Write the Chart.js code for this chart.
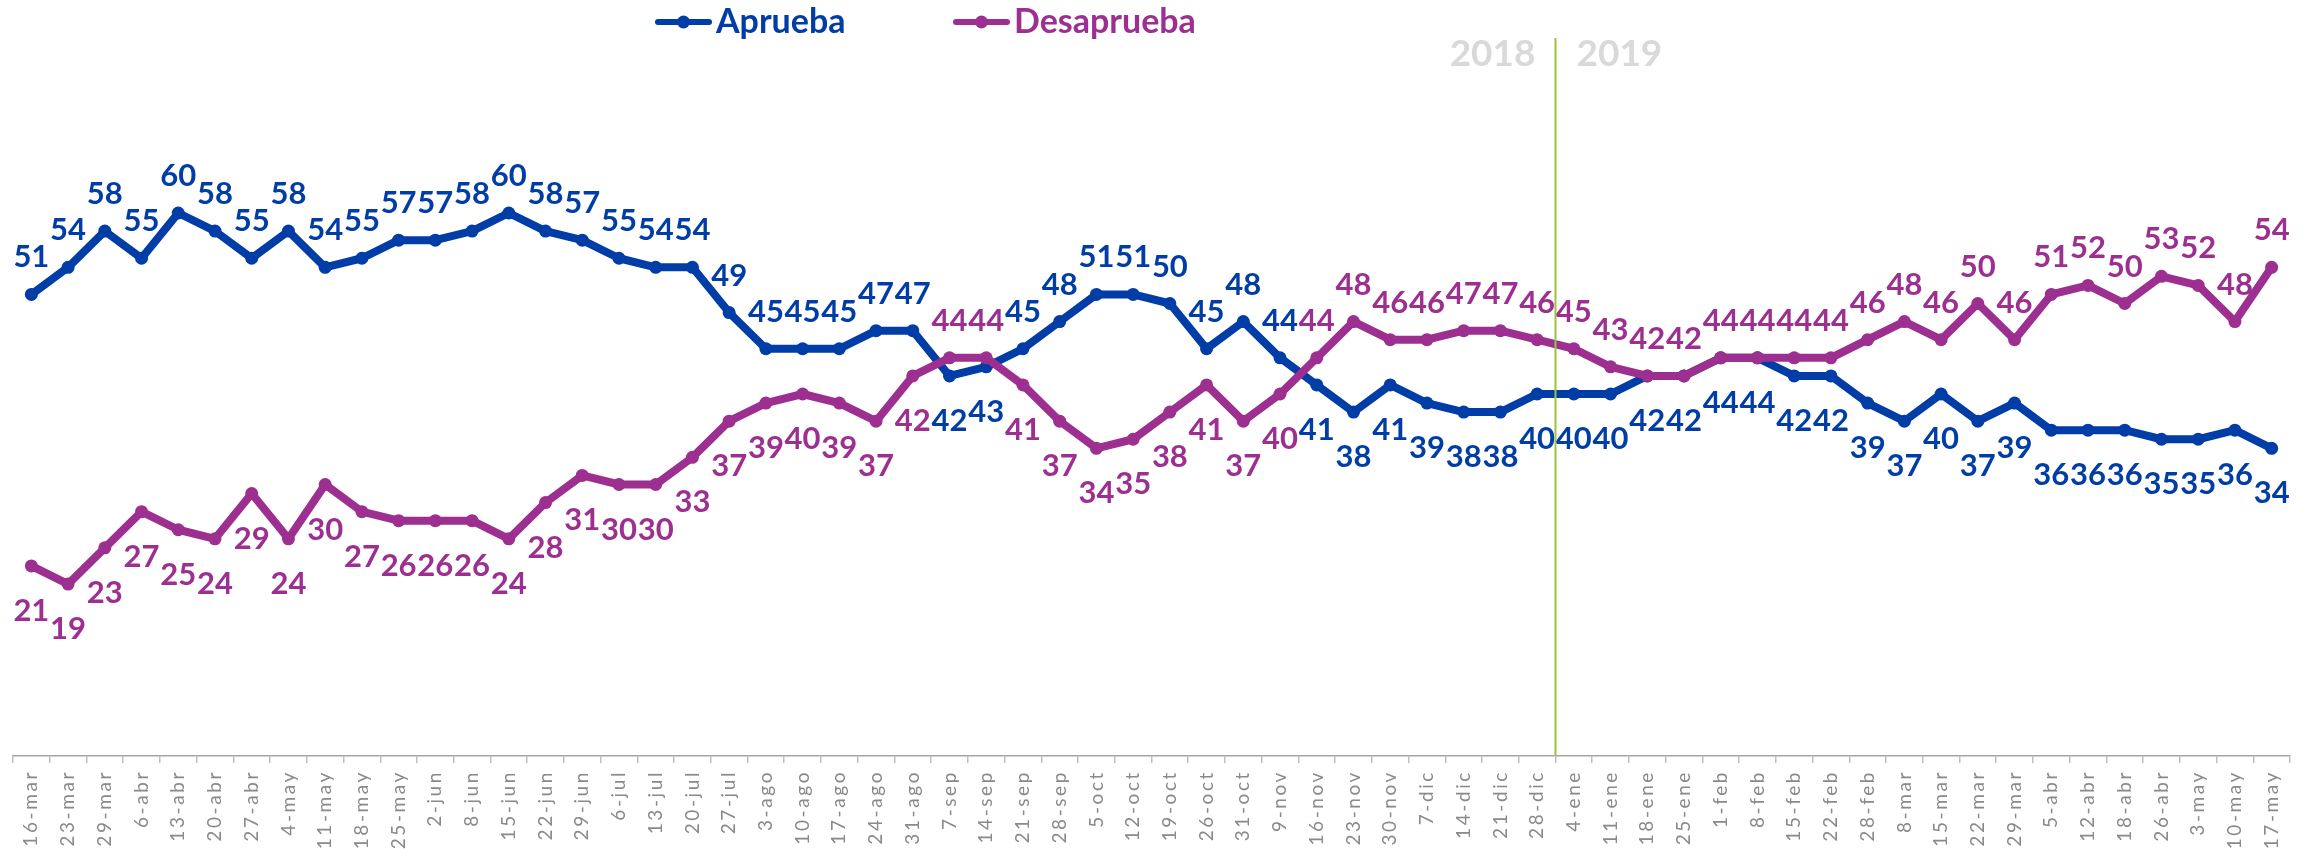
<!DOCTYPE html>
<html lang="es"><head>
<meta charset="utf-8">
<title>Aprueba / Desaprueba</title>
<script src="https://cdn.jsdelivr.net/npm/chart.js@4"></script>
<style>
*{margin:0;padding:0;box-sizing:border-box}
html,body{width:2318px;height:856px;background:#fff;overflow:hidden}
#wrap{position:relative;width:2318px;height:856px}
</style></head><body>
<div id="wrap"><canvas id="c"></canvas></div>
<script>
// semanas (eje x)
const labels=['16-mar','23-mar','29-mar','6-abr','13-abr','20-abr','27-abr','4-may','11-may','18-may','25-may','2-jun','8-jun','15-jun','22-jun','29-jun','6-jul','13-jul','20-jul','27-jul','3-ago','10-ago','17-ago','24-ago','31-ago','7-sep','14-sep','21-sep','28-sep','5-oct','12-oct','19-oct','26-oct','31-oct','9-nov','16-nov','23-nov','30-nov','7-dic','14-dic','21-dic','28-dic','4-ene','11-ene','18-ene','25-ene','1-feb','8-feb','15-feb','22-feb','28-feb','8-mar','15-mar','22-mar','29-mar','5-abr','12-abr','18-abr','26-abr','3-may','10-may','17-may'];
const aprueba=[51,54,58,55,60,58,55,58,54,55,57,57,58,60,58,57,55,54,54,49,45,45,45,47,47,42,43,45,48,51,51,50,45,48,44,41,38,41,39,38,38,40,40,40,42,42,44,44,42,42,39,37,40,37,39,36,36,36,35,35,36,34];
const desaprueba=[21,19,23,27,25,24,29,24,30,27,26,26,26,24,28,31,30,30,33,37,39,40,39,37,42,44,44,41,37,34,35,38,41,37,40,44,48,46,46,47,47,46,45,43,42,42,44,44,44,44,46,48,46,50,46,51,52,50,53,52,48,54];
const years=['2018','2019'];
const yearStart='4-ene';

const blue='#003da6',purple='#9c2f8f';
const FONT='Lato, "Open Sans", sans-serif';

// etiquetas de valor: la serie mayor arriba, la otra abajo
const valueLabels={id:'valueLabels',afterDatasetsDraw(chart){
  const ctx=chart.ctx;ctx.save();
  ctx.letterSpacing='0px';
  ctx.font='bold 31px '+FONT;ctx.textAlign='center';ctx.textBaseline='alphabetic';
  chart.data.datasets.forEach((ds,di)=>{
    const other=chart.data.datasets[1-di].data;
    ctx.fillStyle=ds.borderColor;
    chart.getDatasetMeta(di).data.forEach((pt,i)=>{
      const v=ds.data[i],o=other[i];
      const up=di===0?v>o:v>=o;
      ctx.fillText(String(v),pt.x,up?pt.y-27:pt.y+55);
    });
  });
  ctx.restore();
}};

// separación de años + leyenda
const extras={id:'extras',
  beforeDraw(chart){chart.ctx.letterSpacing='2.6px'},
  beforeDatasetsDraw(chart){chart.ctx.letterSpacing='0px'},
  afterDraw(chart){
    const ctx=chart.ctx,x=chart.scales.x,area=chart.chartArea;
    const i=labels.indexOf(yearStart);
    const lx=(x.getPixelForValue(i-1)+x.getPixelForValue(i))/2;
    ctx.save();ctx.letterSpacing='0px';
    ctx.strokeStyle='#9cc33b';ctx.lineWidth=2;
    ctx.beginPath();ctx.moveTo(lx,38);ctx.lineTo(lx,area.bottom);ctx.stroke();
    ctx.fillStyle='#d9d9d9';ctx.font='bold 37px '+FONT;ctx.textBaseline='alphabetic';
    ctx.textAlign='right';ctx.fillText(years[0],lx-20,66);
    ctx.textAlign='left';ctx.fillText(years[1],lx+21,66);
    // leyenda
    const pos=[655,953];
    ctx.font='bold 34px '+FONT;
    chart.data.datasets.forEach((ds,di)=>{
      const lx0=pos[di],ly=22;
      ctx.strokeStyle=ds.borderColor;ctx.fillStyle=ds.borderColor;ctx.lineWidth=6;ctx.lineCap='round';
      ctx.beginPath();ctx.moveTo(lx0+3,ly);ctx.lineTo(lx0+54,ly);ctx.stroke();
      ctx.beginPath();ctx.arc(lx0+28.5,ly,6.5,0,Math.PI*2);ctx.fill();
      ctx.textAlign='left';ctx.fillText(ds.label,lx0+61,33);
    });
    ctx.restore();
  }};

new Chart(document.getElementById('c'),{type:'line',
  data:{labels,datasets:[
    {label:'Aprueba',data:aprueba,borderColor:blue,backgroundColor:blue,order:1},
    {label:'Desaprueba',data:desaprueba,borderColor:purple,backgroundColor:purple,order:0}
  ]},
  options:{responsive:true,maintainAspectRatio:false,animation:false,
    layout:{padding:{top:32,left:13,right:28,bottom:0}},
    elements:{line:{borderWidth:8,tension:0,borderJoinStyle:'round',borderCapStyle:'round'},
      point:{radius:6.5,borderWidth:0,hoverRadius:6.5}},
    plugins:{legend:{display:false},tooltip:{enabled:false}},
    scales:{
      x:{offset:true,
        grid:{offset:true,drawOnChartArea:false,drawTicks:true,tickLength:7,color:'#bfbfbf',lineWidth:1.5},
        border:{display:true,color:'#a6a6a6',width:1.5},
        ticks:{autoSkip:false,maxRotation:90,minRotation:90,padding:7,color:'#8a8a8a',font:{family:FONT,size:19}},
        afterFit(s){s.height=100}},
      y:{display:false,min:0,max:80}
    }},
  plugins:[valueLabels,extras]});
</script></body></html>
